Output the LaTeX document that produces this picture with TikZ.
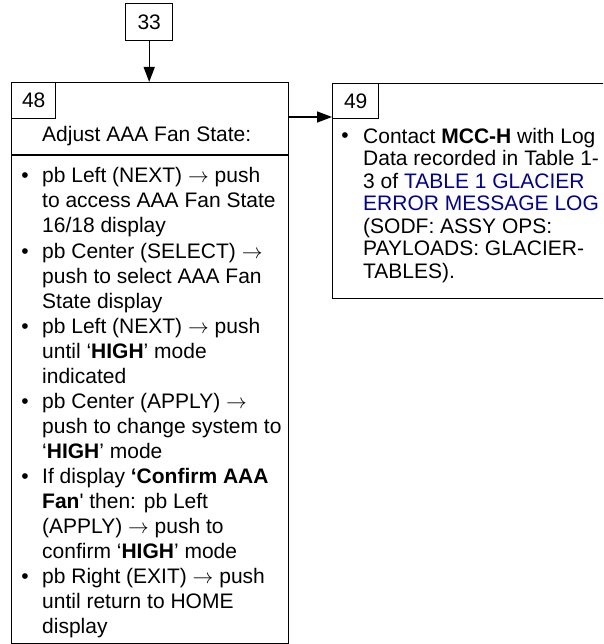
\documentclass[tikz,border=0pt]{standalone}
\usepackage{fontspec}
\newfontfamily\af{Liberation Sans}
\usetikzlibrary{arrows.meta}
\definecolor{lnk}{RGB}{0,0,150}
\newcommand{\ra}{$\rightarrow$}
\begin{document}
\begin{tikzpicture}[x=1pt,y=-1pt,
  box/.style={draw, line width=1.4pt, inner sep=0pt, anchor=north west, font=\af\fontsize{21}{25}\selectfont},
  txt/.style={font=\af\fontsize{21}{25}\selectfont, inner sep=0pt, align=left, anchor=base west},
  txtb/.style={font=\af\fontsize{21}{22.5}\selectfont, inner sep=0pt, align=left, anchor=base west},
  bul/.style={font=\af\fontsize{21}{25}\selectfont, inner sep=0pt, anchor=base},
  arr/.style={-{Triangle[length=15pt,width=11pt]}, line width=1.4pt}]
\useasboundingbox (0,0) rectangle (603,644);
\clip (0,0) rectangle (603,644);
% boxes
\node[box, minimum width=47pt, minimum height=37pt] (n33) at (125,3) {33};
\node[box, minimum width=277pt, minimum height=561pt] (n48) at (11,82) {};
\node[box, minimum width=44pt, minimum height=36pt] (l48) at (11,82) {48};
\node[box, minimum width=290pt, minimum height=215pt] (n49) at (332,83) {};
\node[box, minimum width=46pt, minimum height=35pt] (l49) at (332,83) {49};
\coordinate (d1) at (0,155);
\coordinate (a1) at (0,117);
\draw[line width=1.4pt] (n48.west |- d1) -- (n48.east |- d1);
% connectors
\draw[arr] (n33.south) -- (n33.south |- n48.north);
\draw[arr] (n48.east |- a1) -- (n49.west |- a1);
% box 48 text (anchored at the baseline of the last line)
\node[txt] (h48) at (42,142) {Adjust AAA Fan State:};
\node[bul] (b1) at (25,183) {•};
\node[txt] (i1) at (42,233) {pb Left (NEXT) \ra{} push\\to access AAA Fan State\\16/18 display};
\node[bul] (b2) at (25,258) {•};
\node[txt] (i2) at (42,308) {pb Center (SELECT) \ra\\push to select AAA Fan\\State display};
\node[bul] (b3) at (25,333) {•};
\node[txt] (i3) at (42,383) {pb Left (NEXT) \ra{} push\\until ‘{\bfseries HIGH}’ mode\\indicated};
\node[bul] (b4) at (25,408) {•};
\node[txt] (i4) at (42,458) {pb Center (APPLY) \ra\\push to change system to\\‘{\bfseries HIGH}’ mode};
\node[bul] (b5) at (25,483) {•};
\node[txt] (i5) at (42,558) {If display {\bfseries ‘Confirm AAA}\\{\bfseries Fan}' then: pb Left\\(APPLY) \ra{} push to\\confirm ‘{\bfseries HIGH}’ mode};
\node[bul] (b6) at (25,583) {•};
\node[txt] (i6) at (42,633) {pb Right (EXIT) \ra{} push\\until return to HOME\\display};
% box 49 text
\node[bul] (b7) at (345,143) {•};
\node[txtb] (i7) at (363,278) {Contact {\bfseries MCC-H} with Log\\Data recorded in Table 1-\\3 of \textcolor{lnk}{TABLE 1 GLACIER}\\\textcolor{lnk}{ERROR MESSAGE LOG}\\(SODF: ASSY OPS:\\PAYLOADS: GLACIER-\\TABLES).};
\end{tikzpicture}
\end{document}
